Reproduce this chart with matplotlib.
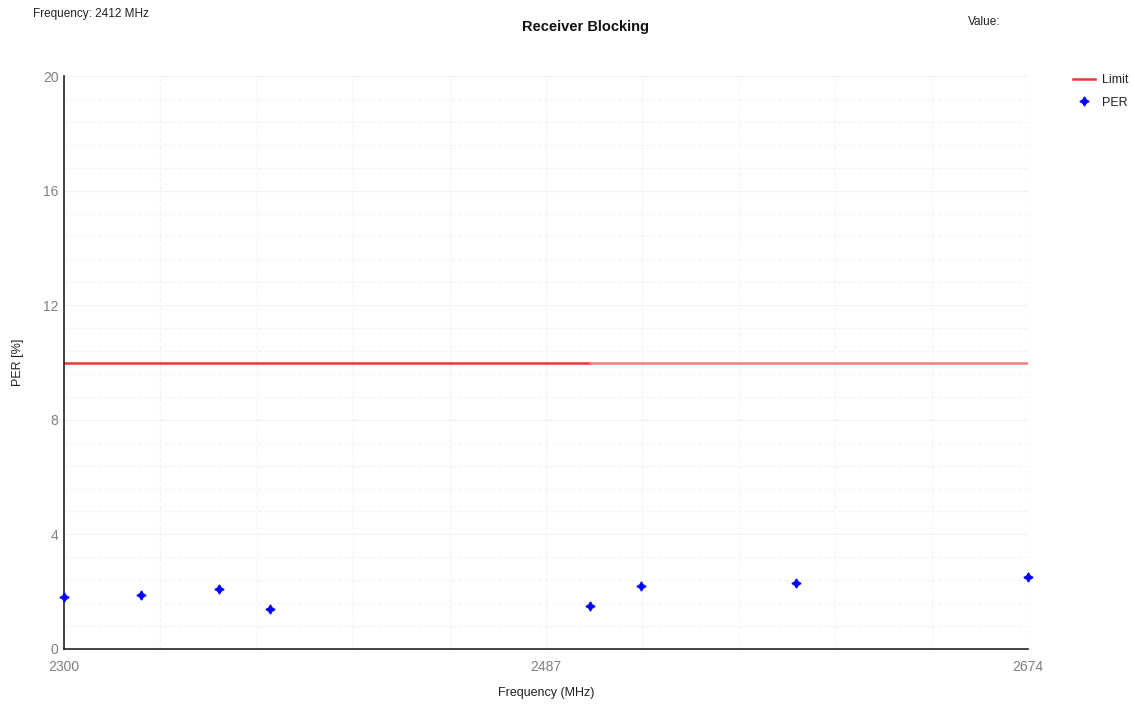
import matplotlib
matplotlib.use("Agg")
import matplotlib.pyplot as plt
import numpy as np

plt.rcParams['font.family'] = ['Liberation Sans', 'DejaVu Sans']

freq = [2300, 2330, 2360, 2380, 2504, 2524, 2584, 2674]
per = [1.8, 1.9, 2.1, 1.4, 1.5, 2.2, 2.3, 2.5]
limit_freq = [2300, 2504, 2674]
limit_val = [10, 10, 10]
xticks = [2300, 2487, 2674]
yticks = [0, 4, 8, 12, 16, 20]

fig = plt.figure(figsize=(11.33, 7.07), dpi=100)
ax = fig.add_axes([64/1133, 1-649/707, (1028-64)/1133, (649-76)/707])

# grid
for gx in np.linspace(2300, 2674, 11)[1:]:
    ax.axvline(gx, color='#f2f2f2', lw=0.8, ls=(0, (4, 2)), zorder=0)
for gy in np.arange(0, 20.01, 0.8)[1:]:
    major = abs(gy / 4 - round(gy / 4)) < 1e-6
    ax.axhline(gy, color='#f2f2f2' if major else '#f4f4f4', lw=0.8,
               ls='-' if major else (0, (4, 2)), zorder=0)

ax.plot(limit_freq[:2], limit_val[:2], color='#ee3535', lw=1.8, zorder=2, label='Limit')
ax.plot(limit_freq[1:], limit_val[1:], color='#f47f7f', lw=1.8, zorder=2)
ax.plot(freq, per, ls='none', marker=(4, 1, 0), ms=6.5, color='#0000ff', zorder=3,
        label='PER', clip_on=False)

ax.set_xlim(2300, 2674)
ax.set_ylim(0, 20)
ax.set_xticks(xticks)
ax.set_yticks(yticks)
ax.tick_params(axis='both', colors='#808080', labelsize=10, length=0, pad=8)
ax.tick_params(axis='y', pad=4)
for s in ['top', 'right']:
    ax.spines[s].set_visible(False)
for s in ['left', 'bottom']:
    ax.spines[s].set_color('#222222')
    ax.spines[s].set_linewidth(1.2)

ax.set_xlabel('Frequency (MHz)', fontsize=9, color='#222222')
ax.set_ylabel('PER [%]', fontsize=9, color='#222222')
ax.xaxis.set_label_coords((546-64)/964, (649-693)/573)
ax.yaxis.set_label_coords((18-64)/964, (649-362)/573)
ax.xaxis.label.set_va('center')
ax.yaxis.label.set_va('center')

fig.text(586/1133, 1-27/707, 'Receiver Blocking', fontsize=10.5, fontweight='bold',
         ha='center', va='center', color='#111111')
fig.text(33/1133, 1-14/707, 'Frequency: 2412 MHz', fontsize=8.5, ha='left', va='center',
         color='#222222')
fig.text(968/1133, 1-22/707, 'Value:', fontsize=8.5, ha='left', va='center', color='#222222')

leg = ax.legend(loc='upper left', bbox_to_anchor=(1.035, 1.023), frameon=False,
                fontsize=9, handlelength=1.8, handletextpad=0.5, labelspacing=0.85)
for t in leg.get_texts():
    t.set_color('#222222')

fig.savefig('out.png', dpi=100)
